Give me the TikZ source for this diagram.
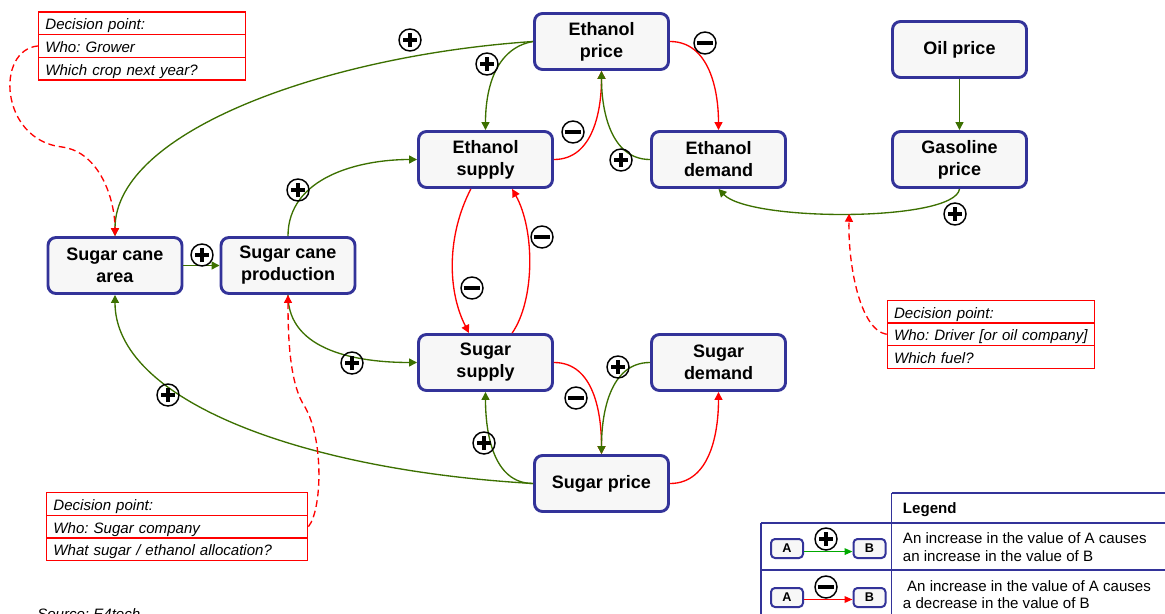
\documentclass[tikz,border=0pt]{standalone}
\usepackage{fontspec}
\setmainfont{Liberation Sans}
\usetikzlibrary{arrows.meta,calc}
\frenchspacing

\definecolor{boxblue}{RGB}{51,51,153}
\definecolor{boxfill}{RGB}{247,247,247}
\definecolor{linkgreen}{RGB}{60,112,0}
\definecolor{legendgreen}{RGB}{0,170,0}

\begin{document}
\begin{tikzpicture}[x=0.75pt,y=-0.75pt]
      \useasboundingbox (0,0) rectangle (1165,614);
      \tikzstyle{var} = [draw=boxblue,line width=2.2pt,fill=boxfill,rounded corners=6pt,
        minimum width=100.5pt,minimum height=42pt,align=center,inner sep=2pt,
        font=\fontsize{13.5}{16.5}\selectfont\bfseries]
      \tikzstyle{mini} = [draw=boxblue,line width=1.5pt,fill=boxfill,rounded corners=3pt,
        minimum width=24pt,minimum height=14.25pt,inner sep=0pt,
        font=\fontsize{9.5}{11}\selectfont\bfseries]
      \tikzstyle{cell} = [draw=red,line width=1.1pt,anchor=north west,minimum height=16.95pt,
        inner xsep=5pt,inner ysep=0pt,text height=11.5pt,text depth=1.8pt,align=left,
        font=\fontsize{11.3}{13}\selectfont\itshape]
      \tikzstyle{poslink} = [draw=linkgreen,line width=1pt,-{Triangle[length=6pt,width=6pt]}]
      \tikzstyle{neglink} = [draw=red,line width=1pt,-{Triangle[length=6pt,width=6pt]}]
      \tikzstyle{choicelink} = [draw=red,line width=1pt,dash pattern=on 5pt off 3pt,
        -{Triangle[length=6pt,width=6pt]}]
      \tikzstyle{posmark} = [draw,circle,line width=1.1pt,minimum size=16.5pt,inner sep=0pt,
        path picture={\draw[line width=2.4pt]
          ($(path picture bounding box.center)+(-5.25pt,0pt)$) -- ++(10.5pt,0pt)
          ($(path picture bounding box.center)+(0pt,-5.25pt)$) -- ++(0pt,10.5pt);}]
      \tikzstyle{negmark} = [draw,circle,line width=1.1pt,minimum size=16.5pt,inner sep=0pt,
        path picture={\draw[line width=3pt]
          ($(path picture bounding box.center)+(-6.3pt,0pt)$) -- ++(12.6pt,0pt);}]

      % variables
      \draw (601.5,41.5) node(ep)[var]{Ethanol\\price};
      \draw (959.5,49.5) node(op)[var]{Oil price};
      \draw (485.5,159.5) node(es)[var]{Ethanol\\supply};
      \draw (718.5,159.5) node(ed)[var]{Ethanol\\demand};
      \draw (959.5,159.5) node(gp)[var]{Gasoline\\price};
      \draw (115,265.5) node(sca)[var]{Sugar cane\\area};
      \draw (288,265.5) node(scp)[var]{Sugar cane\\production};
      \draw (485.5,362.5) node(ss)[var]{Sugar\\supply};
      \draw (718.5,362.5) node(sd)[var]{Sugar\\demand};
      \draw (601.5,483.5) node(sp)[var]{Sugar price};

      % decision points
      \foreach \t [count=\i] in {Decision point:, Who: Grower, Which crop next year?}
        \node(grower\i)[cell,text width=145.2pt] at (38,{11.3+(\i-1)*22.6}) {\t};
      \foreach \t [count=\i] in {Decision point:, Who: Sugar company, What sugar / ethanol allocation?}
        \node(mill\i)[cell,text width=185.7pt] at (46,{492+(\i-1)*22.6}) {\t};
      \foreach \t [count=\i] in {Decision point:, Who: Driver [or oil company], Which fuel?}
        \node(driver\i)[cell,text width=145.2pt] at (886.7,{299.7+(\i-1)*22.6}) {\t};

      % links
      \draw[poslink] (ep.west) .. controls (330,55) and (115,130) .. (sca.north);
      \draw[poslink] (ep.west) to[out=190,in=90] (es.north);
      \draw[neglink] (ep.east) to[out=0,in=90] (ed.north);
      \draw[neglink] (es.east) to[out=0,in=-90] (ep.south);
      \draw[poslink] (ed.west) to[out=180,in=-90] (ep.south);
      \draw[poslink] (op) -- (gp);
      \draw[poslink] (gp.south) .. controls (955,222) and (750,222) .. (ed.south) coordinate[pos=0.5] (fuel);
      \draw[poslink] (sca) -- (scp);
      \draw[poslink] (scp.north) to[out=90,in=180] (es.west);
      \draw[poslink] (scp.south) to[out=-90,in=180] (ss.west);
      \draw[neglink] ([xshift=-11pt]es.south) .. controls (447,235) and (447,290) .. ([xshift=-12.4pt]ss.north);
      \draw[neglink] ([xshift=20pt]ss.north) .. controls (535,300) and (535,230) .. ([xshift=20pt]es.south);
      \draw[neglink] (ss.east) to[out=0,in=90] (sp.north);
      \draw[poslink] (sd.west) to[out=180,in=90] (sp.north);
      \draw[neglink] (sp.east) to[out=0,in=-90] (sd.south);
      \draw[poslink] (sp.west) to[out=180,in=-90] (ss.south);
      \draw[poslink] (sp.west) .. controls (300,470) and (115,400) .. (sca.south);

      % decisions acting on links
      \draw[choicelink] (grower2.west) .. controls (-5,50) and (0,140) .. (62,147)
        .. controls (100,152) and (115,200) .. (sca.north);
      \draw[choicelink] (mill2.east) .. controls (322,510) and (324,440) .. (305,407)
        .. controls (290,385) and (288,340) .. (scp.south);
      \draw[choicelink] (driver2.west) .. controls (860,330) and (848,265) .. (fuel);

      % signs
      \foreach \x/\y [count=\i] in {410/40, 487/64, 621/160, 955/214, 202/255, 298/190,
        352/363, 618/367, 484/443, 168/395, 826/539}
        \node(plus\i)[posmark] at (\x,\y) {};
      \foreach \x/\y [count=\i] in {705/43, 573/132, 472/288, 542/237, 576/398, 826/587}
        \node(minus\i)[negmark] at (\x,\y) {};

      % legend
      \draw[boxblue,line width=1pt] (891.7,493) -- (1170,493) (761,523) -- (1170,523)
        (761,570) -- (1170,570) (761,523) -- (761,620) (891.7,493) -- (891.7,620);
      \node(legendhead)[anchor=base west,inner sep=0pt,font=\fontsize{11.3}{13}\selectfont\bfseries]
        at (902.7,513.3) {Legend};
      \draw (787,548.5) node(a1)[mini]{A};
      \draw (869.5,548.5) node(b1)[mini]{B};
      \draw (787,597.5) node(a2)[mini]{A};
      \draw (869.5,597.5) node(b2)[mini]{B};
      \draw[draw=legendgreen,line width=1pt,-{Triangle[length=6pt,width=5pt]}]
        ([yshift=-2.3pt]a1.east) -- ([yshift=-2.3pt]b1.west);
      \draw[draw=red,line width=1pt,-{Triangle[length=6pt,width=5pt]}]
        ([yshift=-1.5pt]a2.east) -- ([yshift=-1.5pt]b2.west);
      \node(legend1)[anchor=west,align=left,inner sep=0pt,font=\fontsize{11.3}{13.5}\selectfont]
        at (902.7,547.5) {An increase in the value of A causes\\an increase in the value of B};
      \node(legend2)[anchor=west,align=left,inner sep=0pt,font=\fontsize{11.3}{12.75}\selectfont]
        at (902.7,595) {\ An increase in the value of A causes\\a decrease in the value of B};

      \node(source)[anchor=base west,inner sep=0pt,font=\fontsize{11.3}{13}\selectfont\itshape]
        at (37,619.8) {Source: E4tech};
    \end{tikzpicture}
\end{document}
